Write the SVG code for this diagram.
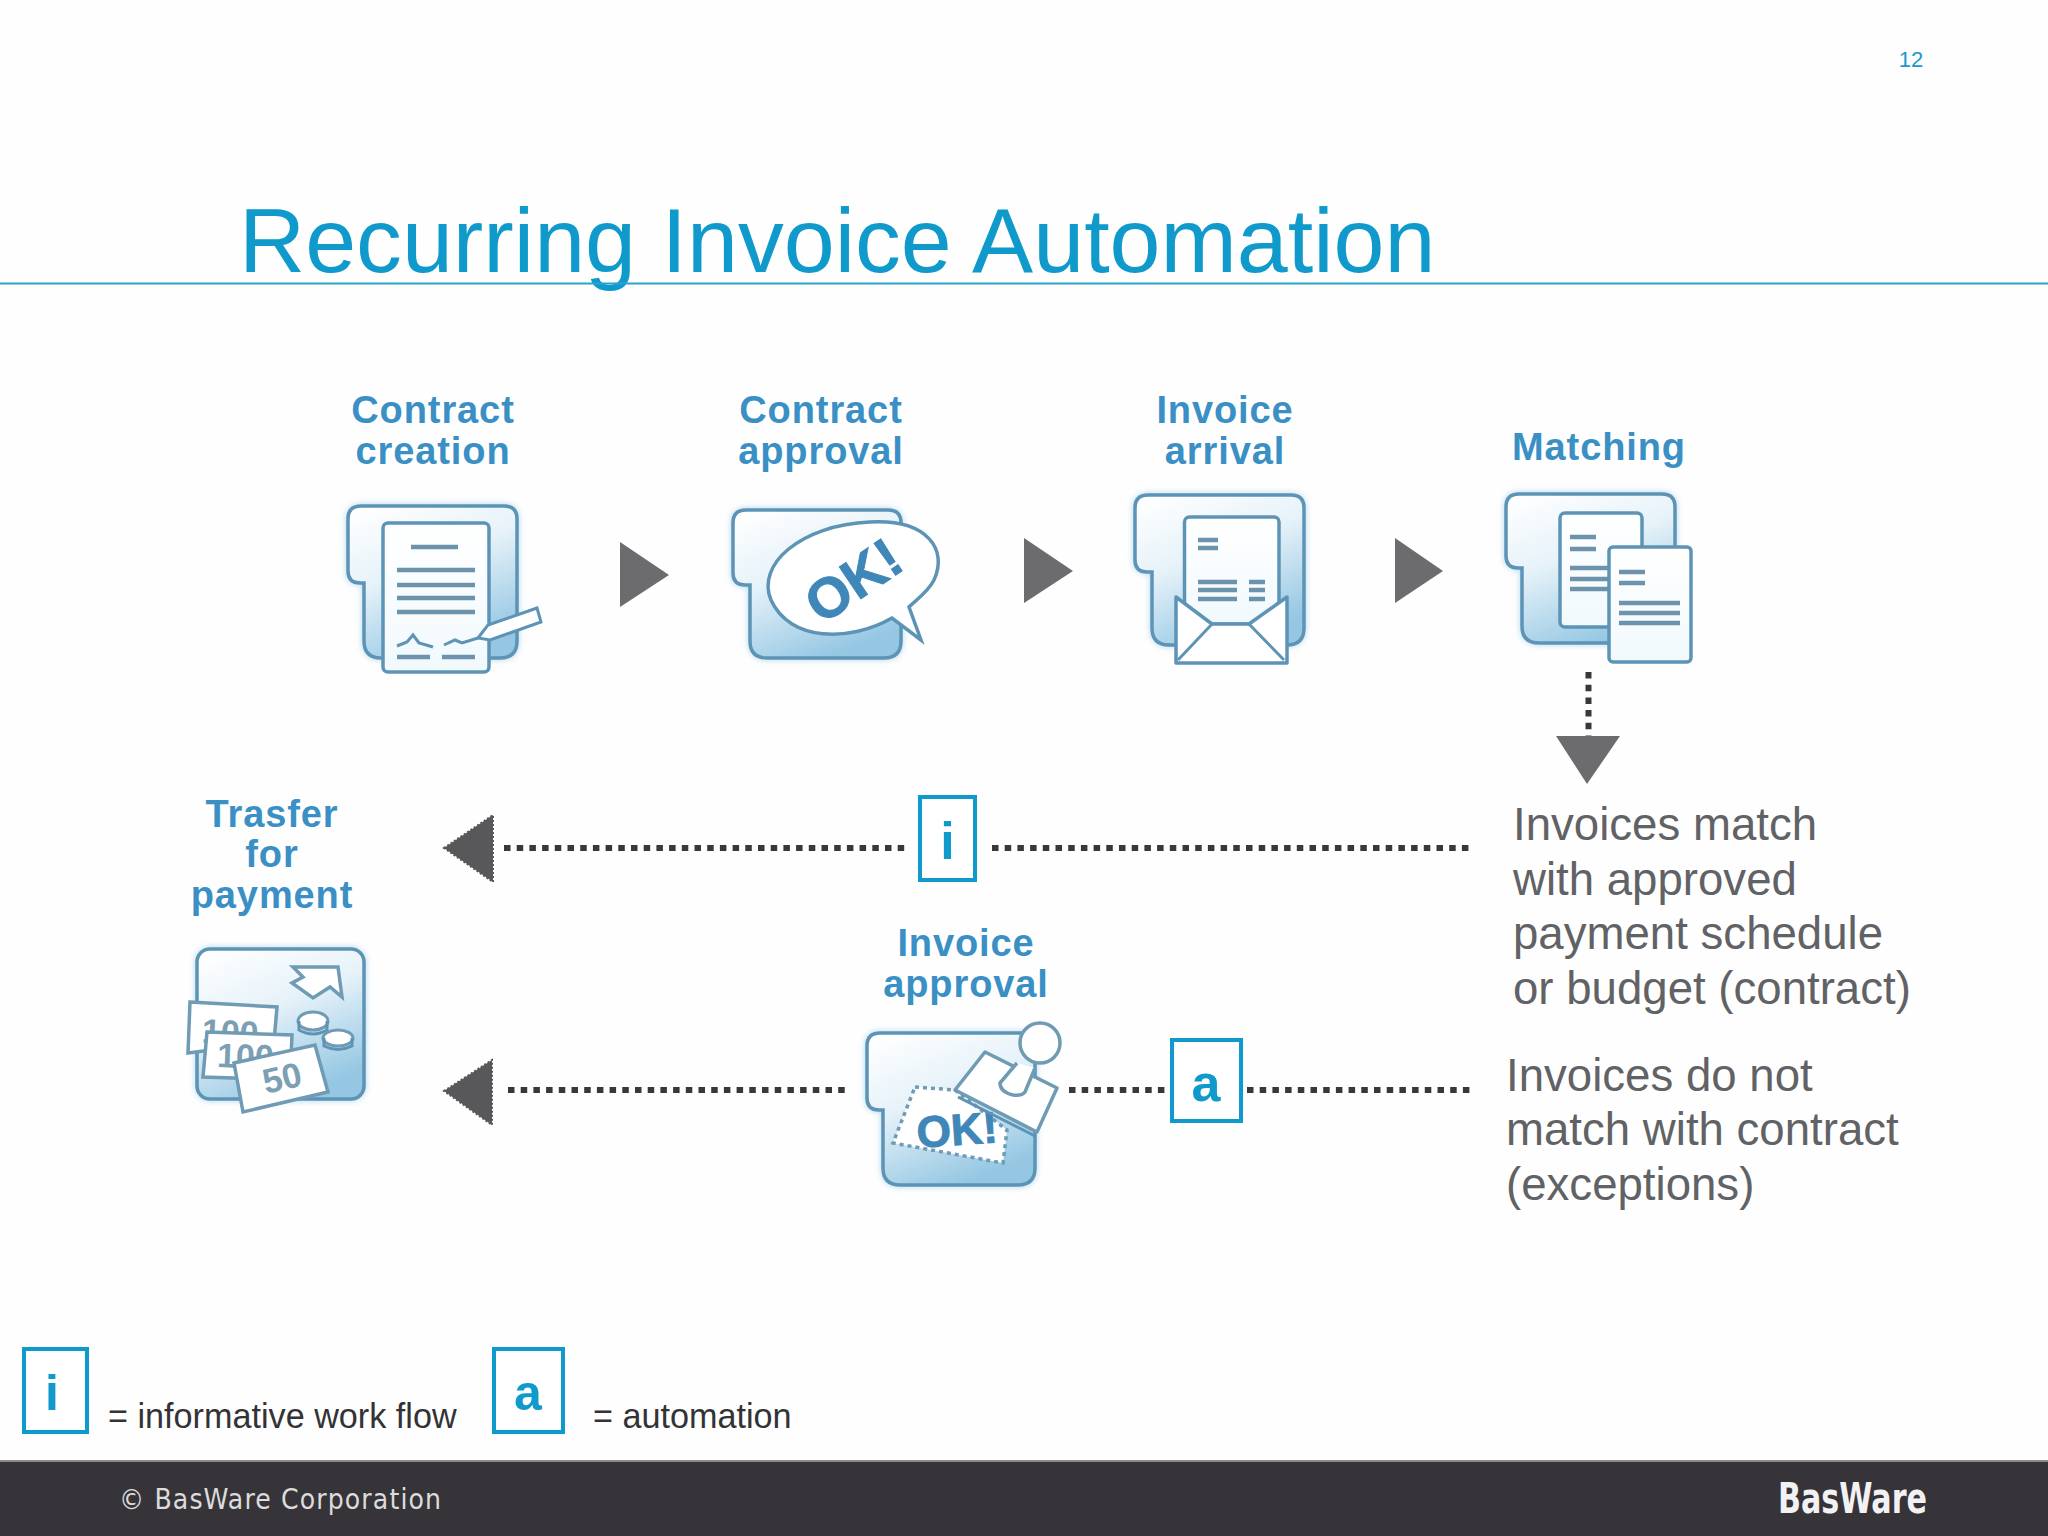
<svg xmlns="http://www.w3.org/2000/svg" width="2048" height="1536" viewBox="0 0 2048 1536">
<style>
text{font-family:"Liberation Sans",Arial,sans-serif}
.lbl{font-size:38px;font-weight:700;fill:#3a90c4;text-anchor:middle;letter-spacing:.9px}
.gray{font-size:45.6px;fill:#616265}
.leg{font-size:34.2px;fill:#333336}
.dash{stroke:#38383b;stroke-width:6;stroke-dasharray:6.5 6.2;fill:none}
.tri{fill:#6c6b6e}
.triL{fill:#58585b;stroke:#58585b;stroke-width:2;stroke-dasharray:2 2}
.box{fill:#fff;stroke:#0f9acb;stroke-width:4}
.boxt{font-weight:700;fill:#0f9acb;text-anchor:middle}
.fold{fill:url(#fg);stroke:#5d94b6;stroke-width:3.5;filter:url(#glow)}
.doc{fill:url(#dg);stroke:#5d94b6;stroke-width:3.5}
.ln{stroke:#6c93ab;stroke-width:4.5;fill:none}
.th{stroke:#5d94b6;stroke-width:3;fill:none}
.ic{font-weight:700;fill:#3f87b8;text-anchor:middle}
</style>
<defs>
<linearGradient id="fg" x1="0.1" y1="0" x2="0.55" y2="1"><stop offset="0" stop-color="#fff"/><stop offset=".45" stop-color="#e6f2f9"/><stop offset="1" stop-color="#95c7e3"/></linearGradient>
<linearGradient id="dg" x1="0" y1="0" x2="0" y2="1"><stop offset="0" stop-color="#fff"/><stop offset="1" stop-color="#f1f9fd"/></linearGradient>
<filter id="glow" x="-15%" y="-15%" width="130%" height="130%"><feDropShadow dx="0" dy="0" stdDeviation="3" flood-color="#8cc6e6" flood-opacity=".7"/></filter>
</defs>
<rect width="2048" height="1536" fill="#fefefe"/>

<g id="header">
<text x="1911" y="67" font-size="22" fill="#1a9acb" text-anchor="middle">12</text>
<text x="239" y="272" font-size="91.600" fill="#0f9acb">Recurring Invoice Automation</text>
<line x1="0" y1="283.500" x2="2048" y2="283.500" stroke="#2aa3cc" stroke-width="2"/>
</g>

<g id="connectors">
<polygon class="tri" points="620,542 669,575 620,607"/>
<polygon class="tri" points="1024,538 1073,571 1024,603"/>
<polygon class="tri" points="1395,538 1443,571 1395,603"/>
<line class="dash" x1="1588.500" y1="672" x2="1588.500" y2="736"/>
<polygon class="tri" points="1556,736 1620,736 1587,784"/>
<line class="dash" x1="504" y1="848" x2="908" y2="848"/>
<line class="dash" x1="992" y1="848" x2="1472" y2="848"/>
<polygon class="triL" points="444,848 493,815 493,882"/>
<line class="dash" x1="508" y1="1090" x2="848" y2="1090"/>
<line class="dash" x1="1069" y1="1090" x2="1166" y2="1090"/>
<line class="dash" x1="1247" y1="1090" x2="1471" y2="1090"/>
<polygon class="triL" points="444,1091 492,1060 492,1125"/>
</g>

<g id="node-contract-creation">
<text class="lbl" x="433" y="423">Contract</text>
<text class="lbl" x="433" y="464">creation</text>
<path class="fold" d="M361 506H504Q517 506 517 519V641Q517 658 500 658H381Q364 658 364 641V583H360Q348 583 348 571V519Q348 506 361 506Z"/>
<rect class="doc" x="383" y="523" width="106" height="149" rx="5"/>
<path class="ln" d="M411 547H458M397 570H475M397 585H475M397 598H475M397 612H475"/>
<path class="th" d="M397 646L407 642L413 635L419 643L433 647M444 645L455 640L462 643L478 638"/>
<path class="ln" stroke-width="3" d="M397 657H430M442 657H475"/>
<polygon points="478,638 488,625 537,608 541,622 490,640" fill="#fff" stroke="#5d94b6" stroke-width="3"/>
</g>

<g id="node-contract-approval">
<text class="lbl" x="821" y="423">Contract</text>
<text class="lbl" x="821" y="464">approval</text>
<path class="fold" d="M746 510H888Q901 510 901 523V641Q901 658 884 658H767Q750 658 750 641V585H745Q733 585 733 573V523Q733 510 746 510Z"/>
<path fill="#fff" stroke="#5d94b6" stroke-width="3.500" d="M921 640L892 618C850 642 790 642 771 600C756 565 800 525 870 522C928 519 948 550 934 580C928 592 916 600 909 607Z"/>
<text class="ic" x="853" y="600" font-size="56" stroke="#3f87b8" stroke-width="1" transform="rotate(-34 853 580)">OK!</text>
</g>

<g id="node-invoice-arrival">
<text class="lbl" x="1225" y="423">Invoice</text>
<text class="lbl" x="1225" y="464">arrival</text>
<path class="fold" d="M1148 495H1291Q1304 495 1304 508V628Q1304 645 1287 645H1169Q1152 645 1152 628V572H1147Q1135 572 1135 560V508Q1135 495 1148 495Z"/>
<rect class="doc" x="1184.500" y="517" width="94.500" height="107" rx="5"/>
<path class="ln" d="M1198 540H1218M1198 548H1218M1198 582H1237M1198 590H1237M1198 599H1237M1249 582H1265M1249 590H1265M1249 599H1265"/>
<path fill="#fff" stroke="#5d94b6" stroke-width="3.500" stroke-linejoin="round" d="M1176 597L1212 624H1249L1287 597V663H1176Z"/>
<path class="th" d="M1178 660L1212 624M1284 660L1249 624"/>
</g>

<g id="node-matching">
<text class="lbl" x="1599" y="460">Matching</text>
<path class="fold" d="M1519 494H1662Q1675 494 1675 507V626Q1675 643 1658 643H1539Q1522 643 1522 626V568H1518Q1506 568 1506 556V507Q1506 494 1519 494Z"/>
<rect class="doc" x="1560" y="513" width="82" height="114" rx="5"/>
<path class="ln" d="M1570 537H1596M1570 549H1596M1570 568H1608M1570 579H1608M1570 589H1608"/>
<rect class="doc" x="1609" y="547" width="82" height="115" rx="4"/>
<path class="ln" d="M1619 572H1645M1619 583H1645M1619 603H1680M1619 613H1680M1619 623H1680"/>
</g>

<g id="node-transfer">
<text class="lbl" x="272" y="827">Trasfer</text>
<text class="lbl" x="272" y="867">for</text>
<text class="lbl" x="272" y="908">payment</text>
<rect class="fold" x="197" y="949" width="167" height="150" rx="13"/>
<polygon points="293,967 338,967 342,997 330,987 313,998 292,983 303,977" fill="#fff" stroke="#6f9bb4" stroke-width="3.500"/>
<ellipse cx="313" cy="1021" rx="15" ry="9" fill="#fff" stroke="#6f9bb4" stroke-width="3"/>
<path class="th" d="M299 1021V1030Q313 1038 327 1030V1021"/>
<ellipse cx="338" cy="1038" rx="15" ry="8" fill="#fff" stroke="#6f9bb4" stroke-width="3"/>
<path class="th" d="M324 1038V1046Q338 1053 352 1046V1038"/>
<polygon points="190,1002 277,1007 274,1042 188,1053" fill="#fff" stroke="#6f9bb4" stroke-width="3.500"/>
<text x="230" y="1044" font-size="34" font-weight="700" fill="#7d9fb4" text-anchor="middle" transform="rotate(3 230 1038)">100</text>
<polygon points="207,1032 292,1035 290,1080 203,1077" fill="#fff" stroke="#6f9bb4" stroke-width="3.500"/>
<text x="245" y="1068" font-size="34" font-weight="700" fill="#7d9fb4" text-anchor="middle" transform="rotate(2 245 1068)">100</text>
<polygon points="234,1063 315,1045 328,1092 243,1112" fill="#fff" stroke="#6f9bb4" stroke-width="3.500"/>
<text x="282" y="1090" font-size="35" font-weight="700" fill="#7d9fb4" text-anchor="middle" transform="rotate(-13 282 1078)">50</text>
</g>

<g id="node-invoice-approval">
<text class="lbl" x="966" y="956">Invoice</text>
<text class="lbl" x="966" y="997">approval</text>
<path class="fold" d="M880 1033H1022Q1035 1033 1035 1046V1168Q1035 1185 1018 1185H900Q883 1185 883 1168V1110H879Q867 1110 867 1098V1046Q867 1033 880 1033Z"/>
<polygon points="915,1087 955,1090 1007,1130 1003,1163 893,1143" fill="#fff" stroke="#6f9bb4" stroke-width="3.500" stroke-dasharray="4 4"/>
<text class="ic" x="957" y="1145" font-size="44" stroke="#3f87b8" transform="rotate(-4 957 1130)">OK!</text>
<polygon points="985,1052 1057,1088 1037,1132 955,1090" fill="#fff" stroke="#6f9bb4" stroke-width="3.500" stroke-linejoin="round"/>
<path class="th" d="M958 1097L1035 1136"/>
<path fill="#fff" stroke="#6f9bb4" stroke-width="3.500" d="M1017 1063L1000 1083Q1000 1092 1013 1095Q1022 1096 1025 1092L1035 1068"/>
<circle cx="1040" cy="1043" r="20" fill="#fff" stroke="#6f9bb4" stroke-width="3.500"/>
</g>

<g id="node-info">
<rect class="box" x="920" y="797" width="55" height="83"/>
<text class="boxt" x="947.500" y="859" font-size="52">i</text>
</g>
<g id="node-auto">
<rect class="box" x="1172" y="1040" width="69" height="81"/>
<text class="boxt" x="1206" y="1101" font-size="52">a</text>
</g>

<g id="node-match-text">
<text class="gray" x="1513" y="840">Invoices match</text>
<text class="gray" x="1513" y="895">with approved</text>
<text class="gray" x="1513" y="949">payment schedule</text>
<text class="gray" x="1513" y="1004">or budget (contract)</text>
</g>
<g id="node-nomatch-text">
<text class="gray" x="1506" y="1091">Invoices do not</text>
<text class="gray" x="1506" y="1145">match with contract</text>
<text class="gray" x="1506" y="1200">(exceptions)</text>
</g>

<g id="legend">
<rect class="box" x="24" y="1349" width="63" height="83"/>
<text class="boxt" x="52" y="1410" font-size="50">i</text>
<text class="leg" x="108" y="1428">= informative work flow</text>
<rect class="box" x="494" y="1349" width="69" height="83"/>
<text class="boxt" x="528" y="1410" font-size="50">a</text>
<text class="leg" x="593" y="1428">= automation</text>
</g>

<g id="footer">
<rect y="1461" width="2048" height="75" fill="#363438"/>
<rect y="1460" width="2048" height="2" fill="#8b8a8d"/>
<text x="119" y="1509" font-size="28" fill="#dcdcdc" textLength="322" lengthAdjust="spacing" style="font-family:'DejaVu Sans Condensed','DejaVu Sans',sans-serif">© BasWare Corporation</text>
<text x="1778" y="1513" font-size="42" font-weight="700" fill="#f2f2f4" textLength="149" lengthAdjust="spacingAndGlyphs" style="font-family:'DejaVu Sans Condensed','DejaVu Sans',sans-serif">BasWare</text>
</g>
</svg>
